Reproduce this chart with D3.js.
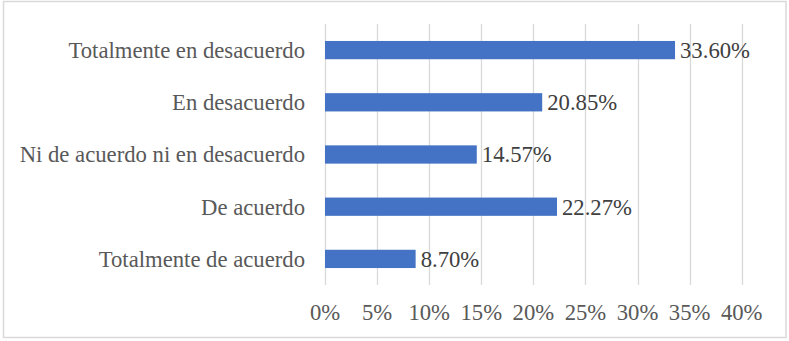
<!DOCTYPE html>
<html><head><meta charset="utf-8">
<script src="https://cdn.jsdelivr.net/npm/d3@7"></script>
<style>body{margin:0;background:#fff}svg{display:block}
svg text{font-family:"Liberation Serif","Times New Roman",Times,serif;font-size:22.7px}</style>
</head><body><svg id="c" width="789" height="341"></svg>
<script>
const categories = ["Totalmente en desacuerdo","En desacuerdo","Ni de acuerdo ni en desacuerdo","De acuerdo","Totalmente de acuerdo"];
const values = [33.60, 20.85, 14.57, 22.27, 8.70];
const valueLabels = ["33.60%","20.85%","14.57%","22.27%","8.70%"];
const ticks = [0,5,10,15,20,25,30,35,40];
const tickLabels = ["0%","5%","10%","15%","20%","25%","30%","35%","40%"];

const svg = d3.select("#c");
svg.append("rect").attr("x",3.5).attr("y",1.5).attr("width",782.5).attr("height",336)
  .attr("fill","#fff").attr("stroke","#d9d9d9").attr("stroke-width",1.5);

const x = d3.scaleLinear().domain([0,40]).range([325,741.7]);
const y = d3.scaleBand().domain(categories).range([24,285]).paddingInner(0.65).paddingOuter(0.325);

const g = svg.append("g");
g.selectAll("line.grid").data(ticks).join("line").attr("class","grid")
  .attr("x1",d=>Math.round(x(d))+0.5).attr("x2",d=>Math.round(x(d))+0.5)
  .attr("y1",24).attr("y2",285).attr("stroke","#d9d9d9").attr("stroke-width",1.3);

g.selectAll("rect.bar").data(values).join("rect").attr("class","bar")
  .attr("x",x(0)).attr("y",(d,i)=>y(categories[i]))
  .attr("width",d=>x(d)-x(0)).attr("height",y.bandwidth()).attr("fill","#4472c4");

g.selectAll("text.val").data(values).join("text").attr("class","val")
  .attr("x",d=>x(d)+5).attr("y",(d,i)=>y(categories[i])+y.bandwidth()/2)
  .attr("dy","0.35em").attr("fill","#404040")
  .text((d,i)=>valueLabels[i]);

g.selectAll("text.cat").data(categories).join("text").attr("class","cat")
  .attr("x",305).attr("y",d=>y(d)+y.bandwidth()/2).attr("dy","0.35em")
  .attr("text-anchor","end").attr("fill","#595959")
  .text(d=>d);

g.selectAll("text.tick").data(ticks).join("text").attr("class","tick")
  .attr("x",d=>x(d)).attr("y",312).attr("dy","0.35em").attr("text-anchor","middle")
  .attr("fill","#595959")
  .text((d,i)=>tickLabels[i]);
</script></body></html>
